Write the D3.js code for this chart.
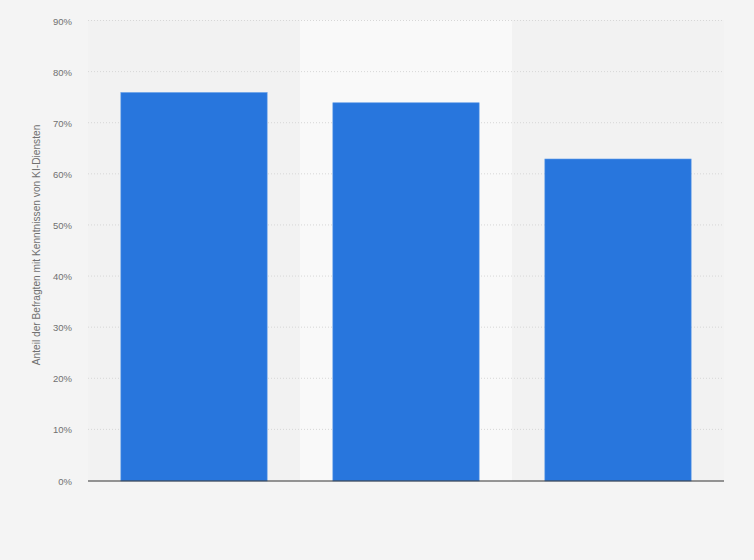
<!DOCTYPE html>
<html>
<head>
<meta charset="utf-8">
<script src="https://cdn.jsdelivr.net/npm/d3@7"></script>
<style>
	body { margin: 0; background: #f4f4f4; }
	svg { display: block; font-family: "Liberation Sans", Arial, sans-serif; }
</style>
</head>
<body>
<svg id="chart" width="754" height="560"></svg>
<script>
// Chart values
const categories = ["A", "B", "C"];
const values = [76, 74, 63];
const yTicks = [0, 10, 20, 30, 40, 50, 60, 70, 80, 90];
const yLabel = "Anteil der Befragten mit Kenntnissen von KI-Diensten";

// General variables
const margin = { top: 21, right: 30, left: 88, bottom: 79 };
const chart = d3.select("#chart");
const chart_width = 754, chart_height = 560;
const innerWidth = chart_width - margin.left - margin.right;
const innerHeight = chart_height - margin.top - margin.bottom;

chart.append("rect")
	.attr("width", chart_width)
	.attr("height", chart_height)
	.attr("fill", "#f4f4f4");

const g = chart.append("g")
	.attr("transform", "translate(" + margin.left + "," + margin.top + ")");

// x position scale
const x = d3.scaleBand()
	.domain(categories)
	.range([0, innerWidth])
	.paddingInner(0.31)
	.paddingOuter(0.155);

// band backgrounds (one per category)
const bandScale = d3.scaleBand().domain(categories).range([0, innerWidth]);
g.selectAll(".band")
	.data(categories).enter()
	.append("rect")
	.attr("x", d => bandScale(d))
	.attr("y", -1)
	.attr("width", bandScale.bandwidth())
	.attr("height", innerHeight + 1)
	.attr("fill", (d, i) => i % 2 ? "#f9f9f9" : "#f2f2f2");

// y position scale
const y = d3.scaleLinear()
	.domain([0, 90])
	.range([innerHeight, 0]);

// grid lines
g.selectAll(".grid")
	.data(yTicks.filter(t => t > 0)).enter()
	.append("line")
	.attr("x1", 0)
	.attr("x2", innerWidth)
	.attr("y1", d => y(d) - 0.5)
	.attr("y2", d => y(d) - 0.5)
	.attr("stroke", "#d7d7d7")
	.attr("stroke-dasharray", "1,2");

// Y axis
const yAxis = g.append("g")
	.call(d3.axisLeft(y).tickValues(yTicks).tickFormat(d => d + "%").tickSize(0).tickPadding(16));
yAxis.select(".domain").remove();
yAxis.selectAll("text")
	.attr("fill", "#707070")
	.style("font-size", "9.5px");

yAxis.append("text")
	.attr("transform", "rotate(-90)")
	.attr("x", -innerHeight / 2 + 6)
	.attr("y", -48)
	.attr("fill", "#707070")
	.attr("text-anchor", "middle")
	.style("font-size", "10.2px")
	.text(yLabel);

// bars
g.selectAll(".bar")
	.data(values).enter()
	.append("rect")
	.attr("x", (d, i) => x(categories[i]))
	.attr("y", d => y(d))
	.attr("width", x.bandwidth())
	.attr("height", d => innerHeight - y(d))
	.attr("fill", "#2876dd")
	.attr("stroke", "#5d9ae8")
	.attr("stroke-width", 0.6);

// X axis baseline
g.append("line")
	.attr("x1", 0)
	.attr("x2", innerWidth)
	.attr("y1", innerHeight)
	.attr("y2", innerHeight)
	.attr("stroke", "#333")
	.attr("stroke-width", 1.2);
</script>
</body>
</html>
